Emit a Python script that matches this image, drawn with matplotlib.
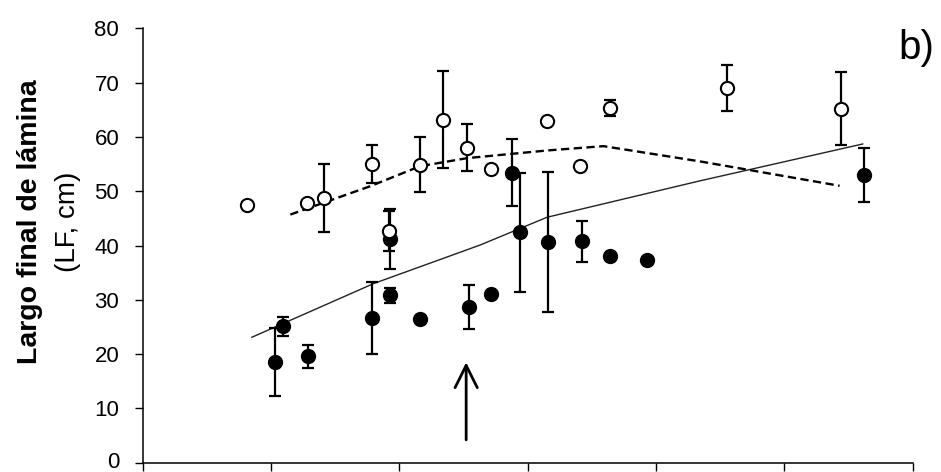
import matplotlib
matplotlib.use("Agg")
import matplotlib.pyplot as plt
import matplotlib.transforms as mtransforms
import numpy as np

plt.rcParams['font.family'] = ['Liberation Sans', 'DejaVu Sans']

# open circles (upper series)
open_x = [0.81, 1.28, 1.41, 1.79, 1.92, 2.16, 2.34, 2.53, 2.71, 3.15, 3.41, 3.64, 4.55, 5.44]
open_y = [47.5, 47.8, 48.7, 55.0, 42.6, 54.9, 63.2, 58.0, 54.1, 62.9, 54.7, 65.3, 69.0, 65.2]
open_err = [np.nan, np.nan, 6.3, 3.5, 3.7, 5.0, 9.0, 4.3, np.nan, np.nan, np.nan, 1.5, 4.3, 6.7]

# filled circles (lower series)
fill_x = [1.03, 1.09, 1.29, 1.79, 1.93, 1.93, 2.16, 2.54, 2.71, 2.88, 2.94, 3.16, 3.42, 3.64, 3.93, 5.62]
fill_y = [18.5, 25.1, 19.6, 26.6, 41.2, 30.8, 26.5, 28.7, 31.1, 53.4, 42.4, 40.6, 40.8, 38.0, 37.3, 53.0]
fill_err = [6.3, 1.7, 2.1, 6.6, 5.5, 1.3, np.nan, 4.1, np.nan, 6.2, 11.0, 12.9, 3.8, np.nan, np.nan, 5.0]

# fitted curves
solid_x = [0.85, 1.80, 2.63, 3.15, 4.34, 5.61]
solid_y = [23.1, 33.0, 40.1, 45.2, 51.9, 58.7]
dash_x = [1.15, 1.77, 2.16, 2.53, 3.15, 3.59, 4.34, 5.43]
dash_y = [45.7, 50.9, 54.6, 56.1, 57.5, 58.3, 55.5, 51.0]

# arrow position
arrow_x = 2.52
arrow_from = 3.7
arrow_to = 19.0

fig = plt.figure(figsize=(9.41, 4.72), dpi=100)
ax = fig.add_axes([0.1517, 0.0197, 0.8183, 0.9203])

ax.plot(solid_x, solid_y, color='#222222', lw=1.0, zorder=2)
ax.plot(dash_x, dash_y, color='black', lw=1.7, linestyle=(0, (3.5, 1.9)), zorder=2)


def draw_series(xs, ys, errs, face):
    xs = np.array(xs)
    ys = np.array(ys)
    errs = np.array(errs)
    has = ~np.isnan(errs)
    ax.errorbar(xs[has], ys[has], yerr=errs[has], fmt='none', ecolor='black',
                elinewidth=1.6, capsize=4.5, capthick=1.6, zorder=3)
    ax.plot(xs, ys, 'o', ms=9.5, mfc=face, mec='black', mew=1.5, zorder=4)


draw_series(fill_x, fill_y, fill_err, 'black')
draw_series(open_x, open_y, open_err, 'white')

ax.annotate('', xy=(arrow_x, arrow_to), xytext=(arrow_x, arrow_from),
            arrowprops=dict(arrowstyle='->,head_length=0.8,head_width=0.4',
                            lw=2.0, color='black', mutation_scale=20))

ax.set_xlim(0, 6)
ax.set_ylim(0, 80)
ax.set_xticks(np.arange(0, 7, 1))
ax.set_xticklabels([])
ax.set_yticks(np.arange(0, 81, 10))
ax.tick_params(axis='y', direction='out', length=6, width=1, labelsize=16, pad=11)
ax.tick_params(axis='x', direction='out', length=6, width=1)
for s in ['top', 'right']:
    ax.spines[s].set_visible(False)
for s in ['left', 'bottom']:
    ax.spines[s].set_linewidth(1.1)
# nudge the 0 label up a little so it stays inside the picture
lab0 = ax.get_yticklabels()[0]
lab0.set_transform(lab0.get_transform() +
                   mtransforms.ScaledTranslation(0, 2 / 72, fig.dpi_scale_trans))

# y label in two lines, first bold
fig.text(30 / 941, 1 - 222 / 472, 'Largo final de lámina', rotation=90,
         fontsize=20.5, fontweight='bold', ha='center', va='center')
fig.text(68 / 941, 1 - 222 / 472, '(LF, cm)', rotation=90,
         fontsize=20, ha='center', va='center')

fig.text(916 / 941, 1 - 48 / 472, 'b)', fontsize=29, ha='center', va='center')

plt.savefig('out.png', dpi=100)
